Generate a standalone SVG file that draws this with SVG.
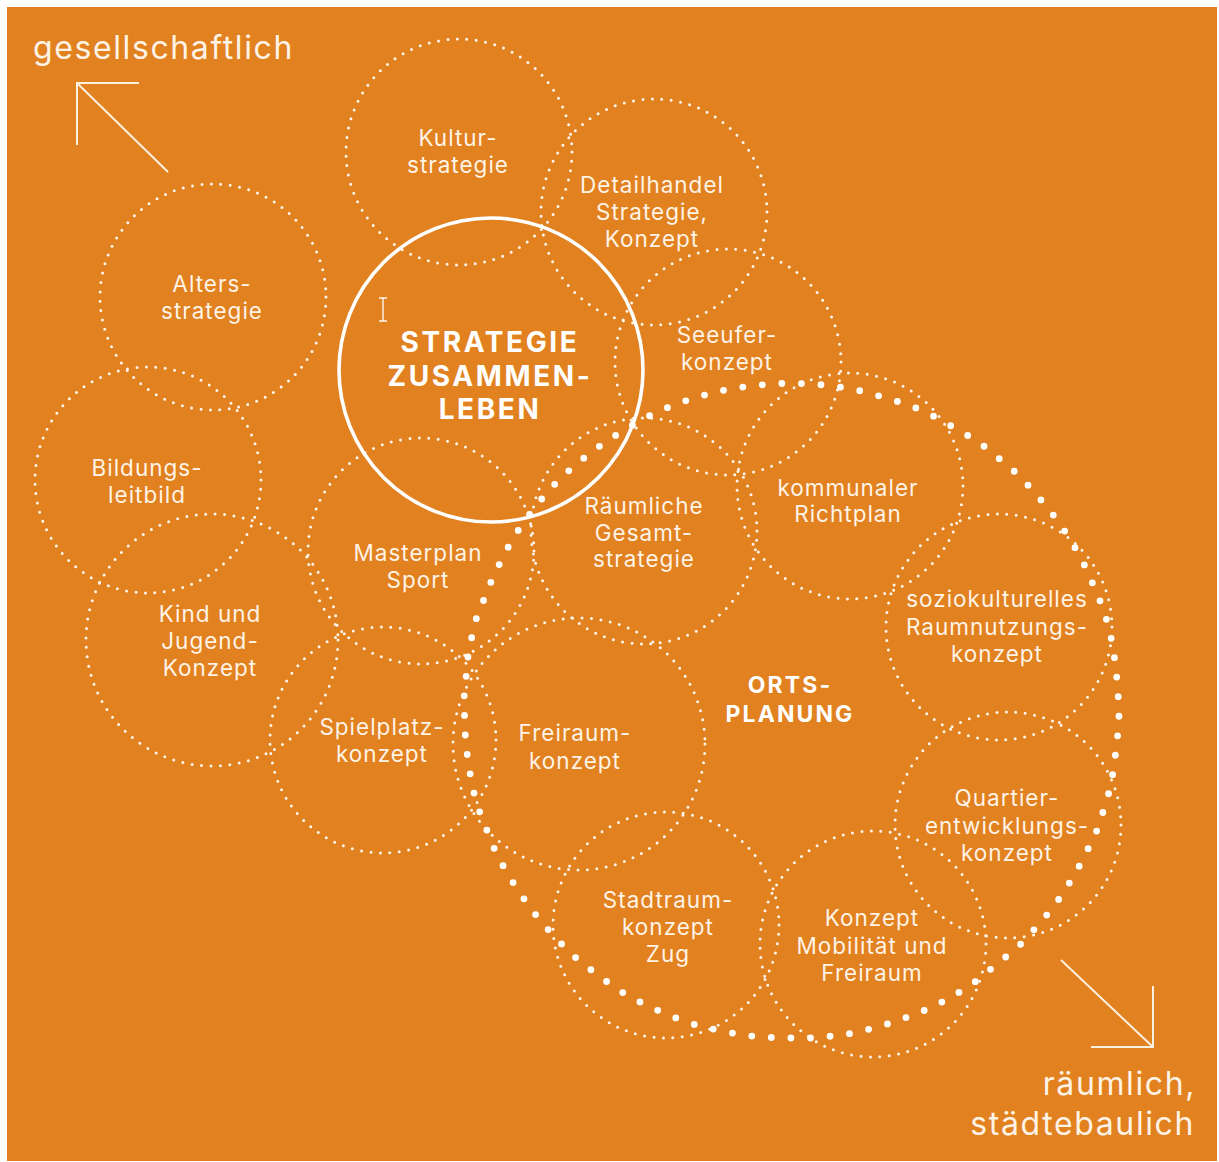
<svg xmlns="http://www.w3.org/2000/svg" width="1219" height="1162" viewBox="0 0 1219 1162">
  <defs>
    <style>
      .bg { fill: #E1811F; }
      .d { fill: none; stroke: #FFF6EC; stroke-width: 3; stroke-linecap: round; stroke-dasharray: 0 9.47; }
      .big { fill: none; stroke: #FFFFFF; stroke-width: 6.8; stroke-linecap: round; stroke-dasharray: 0 19.6; }
      .main { fill: none; stroke: #FFFFFF; stroke-width: 3.6; }
      .lbl { font-family: Inter, "Liberation Sans", sans-serif; font-size: 22.5px; fill: #FFF3E6; text-anchor: middle; letter-spacing: 1px; }
      .bold { font-family: Inter, "Liberation Sans", sans-serif; font-weight: 700; fill: #FFFFFF; text-anchor: middle; }
      .axis { font-family: Inter, "Liberation Sans", sans-serif; font-size: 32px; fill: #FFF3E6; letter-spacing: 1.6px; }
      .arr { fill: none; stroke: #FFF0DF; stroke-width: 2; }
    </style>
  </defs>
  <rect x="0" y="0" width="1219" height="1162" fill="#FFFFFF"/>
  <rect class="bg" x="7" y="7" width="1210" height="1154"/>

  <g id="connectors">
    <path id="ortsplanung-boundary" class="big" d="M468,657 L472,636 L477,616 L485,597 L493,577 L502,559 L512,540 L523,523 L536,506 L549,490 L564,475 L580,461 L597,448 L613,437 L631,426 L649,416 L669,407 L688,400 L708,394 L729,389 L750,386 L771,384 L792,383 L825,385 L846,388 L866,392 L886,398 L906,404 L926,412 L944,422 L962,432 L980,443 L996,456 L1012,469 L1027,484 L1041,500 L1054,516 L1066,533 L1077,551 L1087,570 L1095,589 L1103,608 L1109,628 L1113,647 L1116,669 L1118,691 L1119,717 L1117,744 L1114,765 L1111,786 L1105,805 L1099,826 L1090,845 L1081,863 L1070,882 L1059,899 L1046,916 L1032,932 L1018,947 L1002,960 L986,973 L970,986 L951,997 L933,1007 L913,1015 L894,1022 L874,1028 L854,1033 L833,1036 L811,1038 L785,1038 L758,1037 L737,1034 L717,1030 L696,1025 L676,1018 L657,1010 L638,1001 L620,991 L603,979 L586,966 L570,953 L556,938 L542,923 L529,906 L517,889 L506,871 L496,853 L488,833 L480,813 L474,793 L470,773 L467,753 L465,732 L464,698 L466,678 Z"/>
    <g id="axis-arrows">
      <path class="arr" d="M77,145 L77,83 L139,83 M77,83 L168,172"/>
      <path class="arr" d="M1153,986 L1153,1047 L1091,1047 M1153,1047 L1061,960"/>
    </g>
  </g>

  <g id="node-kultur">
    <circle class="d" cx="459" cy="152" r="113"/>
    <text class="lbl" x="458" y="146">Kultur-</text>
    <text class="lbl" x="458" y="173">strategie</text>
  </g>
  <g id="node-detailhandel">
    <circle class="d" cx="654" cy="212" r="113"/>
    <text class="lbl" x="652" y="193">Detailhandel</text>
    <text class="lbl" x="652" y="220">Strategie,</text>
    <text class="lbl" x="652" y="247">Konzept</text>
  </g>
  <g id="node-alters">
    <circle class="d" cx="213" cy="297" r="113"/>
    <text class="lbl" x="212" y="292">Alters-</text>
    <text class="lbl" x="212" y="319">strategie</text>
  </g>
  <g id="node-seeufer">
    <circle class="d" cx="728" cy="362" r="113"/>
    <text class="lbl" x="727" y="343">Seeufer-</text>
    <text class="lbl" x="727" y="370">konzept</text>
  </g>
  <g id="node-bildung">
    <circle class="d" cx="148" cy="480" r="113"/>
    <text class="lbl" x="147" y="476">Bildungs-</text>
    <text class="lbl" x="147" y="503">leitbild</text>
  </g>
  <g id="node-richtplan">
    <circle class="d" cx="850" cy="486" r="113"/>
    <text class="lbl" x="848" y="496">kommunaler</text>
    <text class="lbl" x="848" y="522">Richtplan</text>
  </g>
  <g id="node-gesamtstrategie">
    <circle class="d" cx="644" cy="531" r="113"/>
    <text class="lbl" x="644" y="514">Räumliche</text>
    <text class="lbl" x="644" y="541">Gesamt-</text>
    <text class="lbl" x="644" y="567">strategie</text>
  </g>
  <g id="node-masterplan">
    <circle class="d" cx="421" cy="551" r="113"/>
    <text class="lbl" x="418" y="561">Masterplan</text>
    <text class="lbl" x="418" y="588">Sport</text>
  </g>
  <g id="node-soziokultur">
    <circle class="d" cx="999" cy="627" r="113"/>
    <text class="lbl" x="997" y="607">soziokulturelles</text>
    <text class="lbl" x="997" y="635">Raumnutzungs-</text>
    <text class="lbl" x="997" y="662">konzept</text>
  </g>
  <g id="node-kindjugend">
    <circle class="d" cx="212" cy="640" r="126"/>
    <text class="lbl" x="210" y="622">Kind und</text>
    <text class="lbl" x="210" y="649">Jugend-</text>
    <text class="lbl" x="210" y="676">Konzept</text>
  </g>
  <g id="node-spielplatz">
    <circle class="d" cx="383" cy="740" r="113"/>
    <text class="lbl" x="382" y="735">Spielplatz-</text>
    <text class="lbl" x="382" y="762">konzept</text>
  </g>
  <g id="node-freiraum">
    <circle class="d" cx="579" cy="744" r="126"/>
    <text class="lbl" x="575" y="741">Freiraum-</text>
    <text class="lbl" x="575" y="769">konzept</text>
  </g>
  <g id="node-quartier">
    <circle class="d" cx="1008" cy="825" r="113"/>
    <text class="lbl" x="1007" y="806">Quartier-</text>
    <text class="lbl" x="1007" y="834">entwicklungs-</text>
    <text class="lbl" x="1007" y="861">konzept</text>
  </g>
  <g id="node-stadtraum">
    <circle class="d" cx="666" cy="925" r="113"/>
    <text class="lbl" x="668" y="908">Stadtraum-</text>
    <text class="lbl" x="668" y="935">konzept</text>
    <text class="lbl" x="668" y="962">Zug</text>
  </g>
  <g id="node-mobilitaet">
    <circle class="d" cx="873" cy="944" r="113"/>
    <text class="lbl" x="872" y="926">Konzept</text>
    <text class="lbl" x="872" y="954">Mobilität und</text>
    <text class="lbl" x="872" y="981">Freiraum</text>
  </g>

  <g id="node-ortsplanung">
    <text class="bold" x="790" y="693" font-size="23" letter-spacing="2.1">ORTS-</text>
    <text class="bold" x="790" y="722" font-size="23" letter-spacing="2.1">PLANUNG</text>
  </g>

  <g id="node-strategie-zusammenleben">
    <circle class="main" cx="491" cy="370" r="152"/>
    <text class="bold" x="490" y="352" font-size="28" letter-spacing="2.6">STRATEGIE</text>
    <text class="bold" x="490" y="386" font-size="28" letter-spacing="2.6">ZUSAMMEN-</text>
    <text class="bold" x="490" y="419" font-size="28" letter-spacing="2.6">LEBEN</text>
  </g>

  <g id="cursor">
    <path d="M379,298 L387,298 M383,298 L383,321 M379,321 L387,321" fill="none" stroke="#FFF6EC" stroke-width="1.4"/>
  </g>

  <g id="axis-labels">
    <text class="axis" x="33" y="59">gesellschaftlich</text>
    <text class="axis" x="1196" y="1095" text-anchor="end">räumlich,</text>
    <text class="axis" x="1195" y="1135" text-anchor="end">städtebaulich</text>
  </g>
</svg>
